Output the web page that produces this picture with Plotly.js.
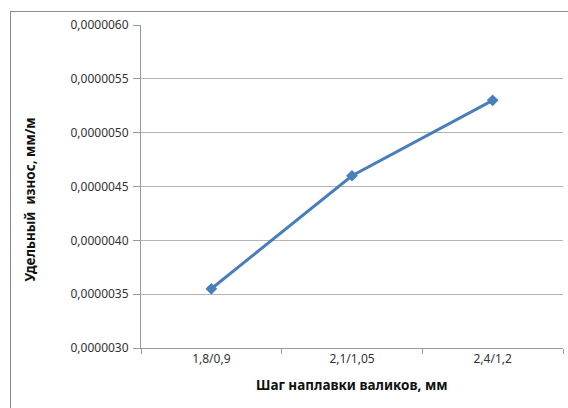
<!DOCTYPE html>
<html>
<head>
<meta charset="utf-8">
<script src="https://cdn.plot.ly/plotly-3.0.1.min.js"></script>
<style>
  html, body { margin: 0; padding: 0; background: #fff; }
  #wrap { position: relative; width: 568px; height: 408px; overflow: hidden; }
  #frame { position: absolute; left: 10px; top: 11px; width: 620px; height: 460px;
           border: 1px solid #8c8c8c; box-sizing: border-box; pointer-events: none; }
  #chart { position: absolute; left: 0; top: 0; width: 568px; height: 408px; }
</style>
</head>
<body>
<div id="wrap">
  <div id="chart"></div>
  <div id="frame"></div>
</div>
<script>
// Шаг наплавки валиков (мм) и удельный износ (мм/м)
const steps = ['1,8/0,9', '2,1/1,05', '2,4/1,2'];
const wear = [0.00000355, 0.0000046, 0.0000053];

const xTitle = 'Шаг наплавки валиков, мм';
const yTitle = 'Удельный&nbsp; износ, мм/м';

const tickFont = { family: 'Noto Sans, Open Sans, sans-serif', size: 12, color: '#333333' };
const titleFont = { family: 'Noto Sans, Open Sans, sans-serif', size: 13.5, color: '#111111', weight: 'bold' };

const trace = {
  x: steps,
  y: wear,
  type: 'scatter',
  mode: 'lines+markers',
  line: { color: '#4a7ebb', width: 3 },
  marker: { symbol: 'diamond', size: 9, color: '#4a7ebb' },
  hoverinfo: 'x+y'
};

const layout = {
  width: 568,
  height: 408,
  margin: { l: 141, r: 5, t: 25, b: 60 },
  paper_bgcolor: 'rgba(0,0,0,0)',
  plot_bgcolor: '#fff',
  separators: ', ',
  showlegend: false,
  xaxis: {
    type: 'category',
    tickson: 'boundaries',
    ticks: 'outside',
    ticklen: 5,
    tickcolor: '#9a9a9a',
    showline: true,
    linecolor: '#9a9a9a',
    linewidth: 1,
    showgrid: false,
    tickfont: tickFont,
    range: [-0.5, 2.5],
    fixedrange: true
  },
  yaxis: {
    range: [0.000003, 0.000006],
    dtick: 0.0000005,
    tick0: 0.000003,
    tickformat: '.7f',
    ticks: 'outside',
    ticklen: 7,
    tickcolor: '#9a9a9a',
    showline: true,
    linecolor: '#9a9a9a',
    linewidth: 1,
    showgrid: true,
    gridcolor: '#b4b4b4',
    gridwidth: 1,
    zeroline: false,
    tickfont: tickFont,
    ticklabelstandoff: 2,
    fixedrange: true
  },
  annotations: [
    {
      text: '<b>' + xTitle + '</b>',
      xref: 'paper', yref: 'paper',
      x: 0.5, y: -0.115,
      xanchor: 'center', yanchor: 'middle',
      showarrow: false,
      font: titleFont
    },
    {
      text: '<b>' + yTitle + '</b>',
      xref: 'paper', yref: 'paper',
      x: -0.263, y: 0.46,
      xanchor: 'center', yanchor: 'middle',
      textangle: -90,
      showarrow: false,
      font: titleFont
    }
  ]
};

Plotly.newPlot('chart', [trace], layout, { displayModeBar: false, staticPlot: true });
</script>
</body>
</html>
